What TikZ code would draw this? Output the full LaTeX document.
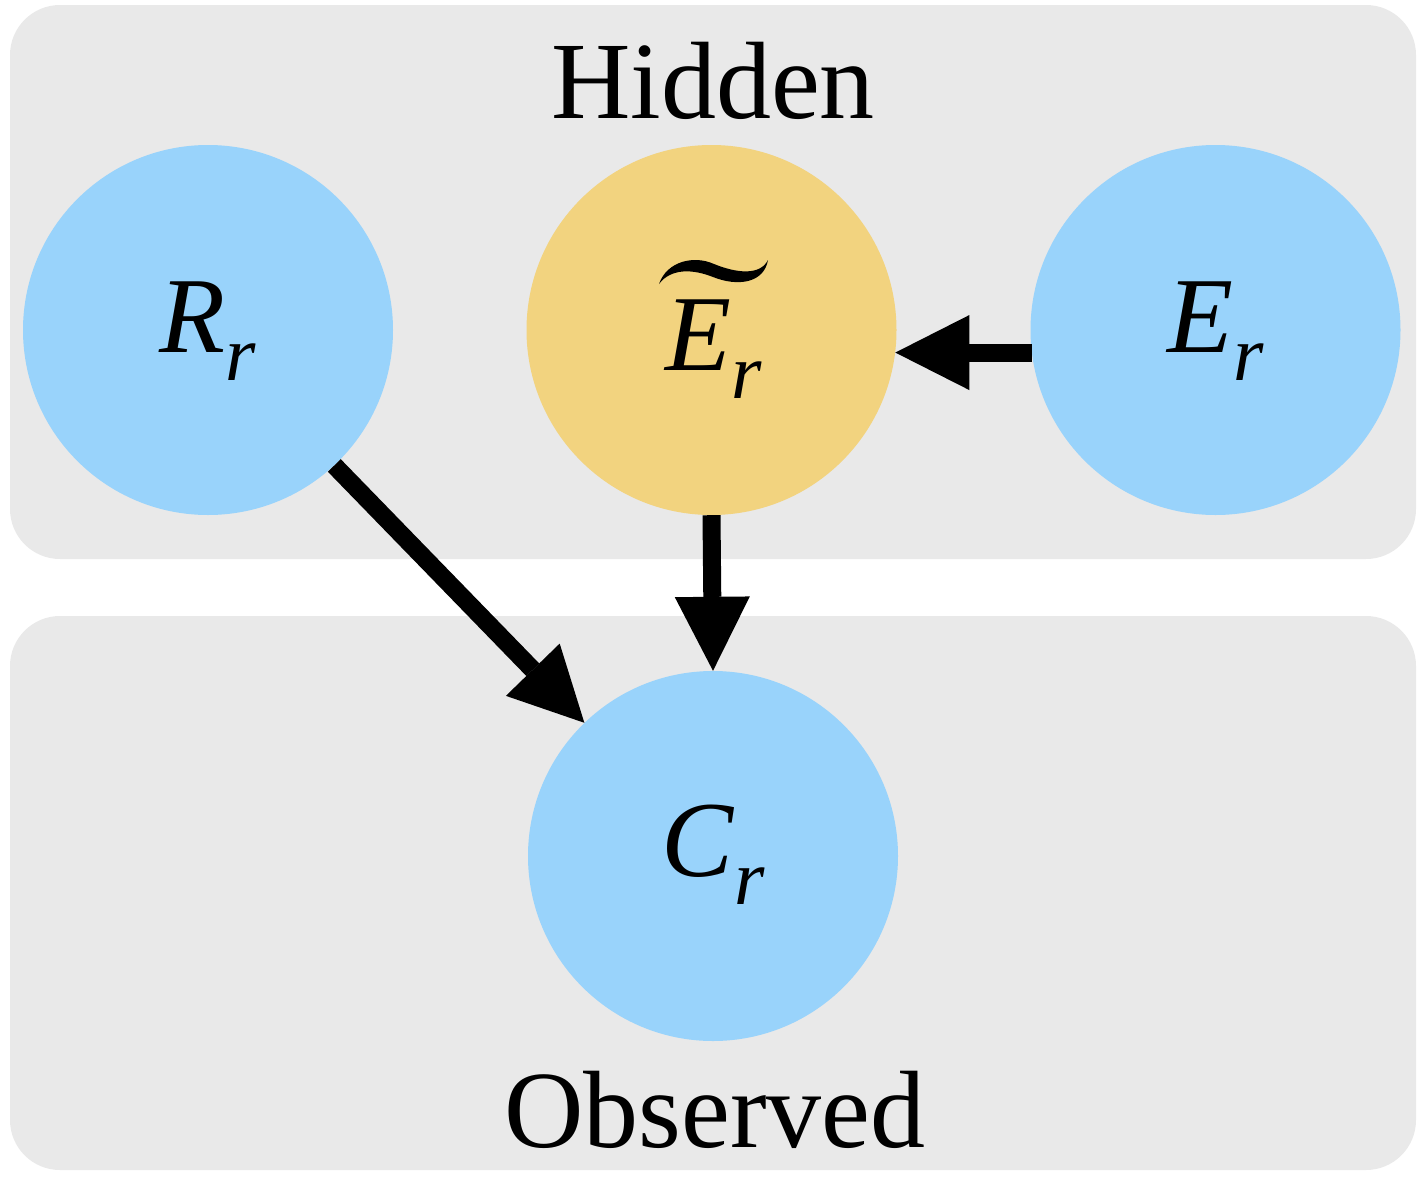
\documentclass[tikz,border=0pt]{standalone}
\usepackage{fontspec}
\setmainfont{Liberation Serif}
\usetikzlibrary{arrows.meta}
\definecolor{panelgray}{HTML}{E9E9E9}
\definecolor{nodeblue}{HTML}{99D3FB}
\definecolor{nodeorange}{HTML}{F2D37F}
\newcommand{\varlab}[1]{{\fontsize{108}{108}\selectfont\textit{#1}}\raisebox{-28pt}{\fontsize{78}{78}\selectfont\textit{r}}}
\tikzset{
  panelbox/.style={fill=panelgray, draw=none, rounded corners=50pt},
  varnode/.style={circle, minimum size=370pt, inner sep=0pt, draw=none},
  varlabel/.style={inner sep=0pt, anchor=base},
  titletext/.style={font=\fontsize{110}{110}\selectfont, inner sep=0pt, anchor=base},
  arr/.style={line width=18pt, -{Triangle[length=74pt,width=75pt,line width=0pt]}},
}
\begin{document}
\begin{tikzpicture}[x=1pt,y=-1pt]
\useasboundingbox (0,0) rectangle (1424,1178);
% panels
\fill[panelbox] (10,5) rectangle (1416,559);
\fill[panelbox] (10,616) rectangle (1416,1170);
% nodes
\node[varnode, fill=nodeblue] (Rr) at (208,330) {};
\node[varnode, fill=nodeorange] (Et) at (711.5,330) {};
\node[varnode, fill=nodeblue] (Er) at (1215.5,330) {};
\node[varnode, fill=nodeblue] (Cr) at (713,856) {};
% labels
\node[titletext] (hid) at (713,118) {Hidden};
\node[titletext] (obs) at (715,1147) {Observed};
\node[varlabel] (RrL) at (208,352) {\varlab{R}};
\node[varlabel] (ErL) at (1216,352) {\varlab{E}};
\node[varlabel] (EtL) at (714,370) {\varlab{E}};
\node[varlabel] (CrL) at (713,876) {\varlab{C}};
% wide tilde over E
\fill (659,284) .. controls (667,261) and (694,255) .. (714,264)
  .. controls (736,273) and (760,276) .. (768,260)
  .. controls (764,283) and (738,287) .. (713,277)
  .. controls (693,269) and (671,268) .. (659,284) -- cycle;
% arrows
\draw[arr] (Er.187) -- (Et.-7);
\draw[arr] (Et.south) -- (Cr.north);
\draw[arr] (Rr.-47) -- (Cr.134);
\end{tikzpicture}
\end{document}
